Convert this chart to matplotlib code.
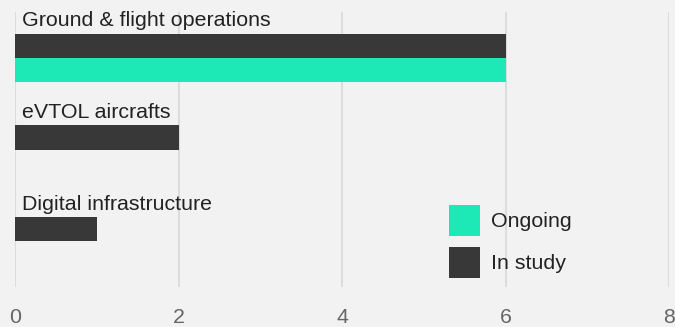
import matplotlib.pyplot as plt
import numpy as np

plt.rcParams['font.family'] = ['Liberation Sans', 'DejaVu Sans']

categories = ['Ground & flight operations', 'eVTOL aircrafts', 'Digital infrastructure']
in_study = [6, 2, 1]
ongoing = [6, 0, 0]
xticks = [0, 2, 4, 6, 8]

bg = '#f2f2f2'
dark = '#383838'
teal = '#1de9b6'
fs = 15.4

fig = plt.figure(figsize=(6.75, 3.27), dpi=100, facecolor=bg)
ax = fig.add_axes([15 / 675, 1 - 287 / 327, 654 / 675, 275 / 327], facecolor=bg)

y = np.arange(len(categories))
h = 0.262
ax.barh(y - h / 2, in_study, height=h, color=dark, label='In study', zorder=3)
ax.barh(y + h / 2, ongoing, height=h, color=teal, label='Ongoing', zorder=3)

# category names sit above each group of bars
for i, name in enumerate(categories):
    ax.text(0.085, i - 0.342, name, fontsize=fs, color='#222222',
            va='baseline', ha='left', zorder=4)

ax.set_xlim(0, 8)
ax.set_ylim(len(categories) - 0.5, -0.5)
ax.set_xticks(xticks)
ax.set_xticklabels([str(t) for t in xticks])
ax.set_yticks([])
ax.tick_params(axis='x', length=0, pad=15, labelsize=fs, labelcolor='#666666')
ax.grid(axis='x', color='#dcdcdc', linewidth=1.5, zorder=0)
ax.set_axisbelow(True)
for s in ax.spines.values():
    s.set_visible(False)
for lbl in ax.get_xticklabels():
    lbl.set_clip_on(False)

handles, labels = ax.get_legend_handles_labels()
leg = ax.legend(handles[::-1], labels[::-1], loc='upper left',
                bbox_to_anchor=(434 / 654, (287 - 205) / 275),
                frameon=False, fontsize=fs, handlelength=1.45, handleheight=1.85,
                handletextpad=0.5, labelspacing=0.5, borderpad=0, borderaxespad=0)
for t in leg.get_texts():
    t.set_color('#222222')

fig.savefig('out.png', dpi=100, facecolor=bg)
